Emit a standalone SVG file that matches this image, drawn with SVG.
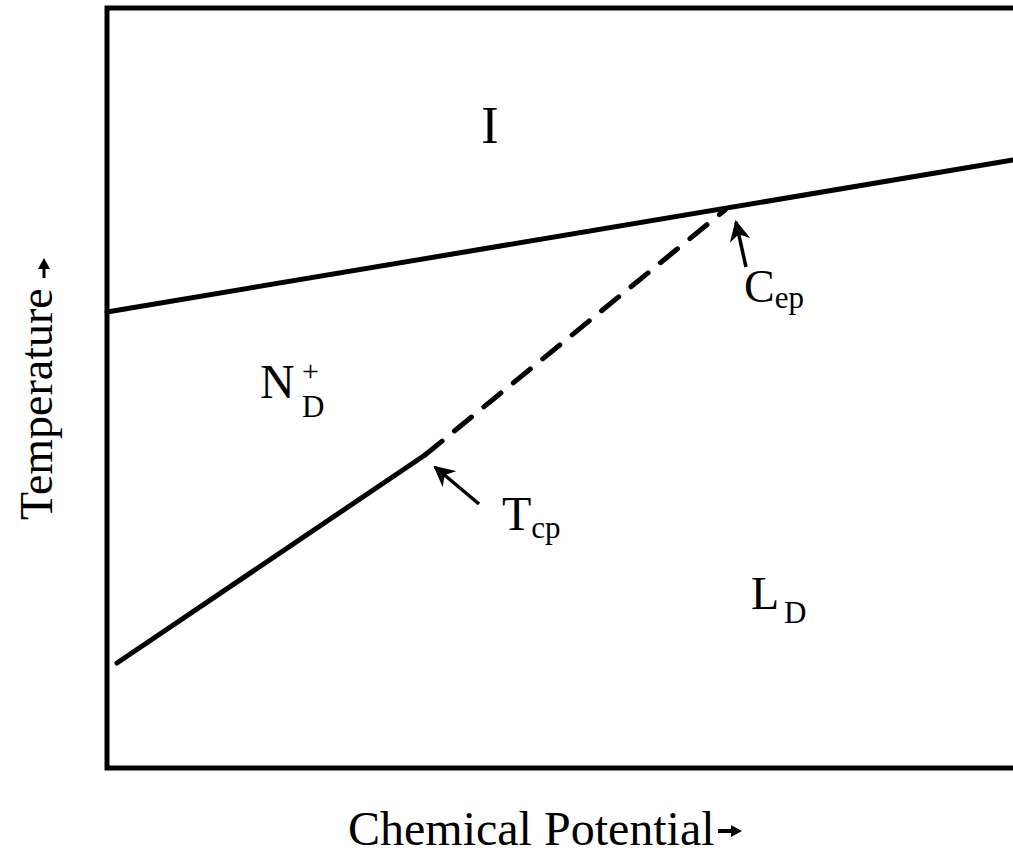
<svg xmlns="http://www.w3.org/2000/svg" width="1013" height="857" viewBox="0 0 1013 857">
<style>
.t{font-family:"Liberation Serif","Times New Roman",serif;fill:#000}
.ln{stroke:#000;stroke-width:5;fill:none;stroke-linecap:round}
.ar{stroke:#000;stroke-width:3.5;fill:none}
</style>
<defs>
<marker id="ah" viewBox="0 0 10 10" refX="9" refY="5" markerWidth="6" markerHeight="6" markerUnits="strokeWidth" orient="auto">
<path d="M0,0 L10,5 L0,10 L3,5 Z" fill="#000"/>
</marker>
</defs>
<rect width="1013" height="857" fill="#fff"/>
<g id="frame"><path class="ln" d="M1016,8 H107 V768 H1016" stroke-linecap="butt"/></g>
<g id="connectors">
<line class="ln" x1="107" y1="312" x2="1013" y2="160"/>
<line class="ln" x1="117" y1="663" x2="425" y2="455"/>
<line class="ln" x1="425" y1="455" x2="725" y2="210" stroke-dasharray="22,16" stroke-linecap="butt"/>
<line class="ar" x1="746" y1="267" x2="736" y2="222" marker-end="url(#ah)"/>
<line class="ar" x1="479" y1="504" x2="435" y2="467" marker-end="url(#ah)"/>
</g>
<g id="label-I"><text class="t" x="490" y="143" font-size="52" text-anchor="middle">I</text></g>
<g id="label-Cep"><text class="t" x="744" y="302" font-size="46">C<tspan font-size="31" dy="6">ep</tspan></text></g>
<g id="label-Tcp"><text class="t" x="502" y="530" font-size="48">T<tspan font-size="31" dy="8">cp</tspan></text></g>
<g id="label-ND"><text class="t" x="260" y="398" font-size="48">N</text><text class="t" x="302" y="381" font-size="30">+</text><text class="t" x="302" y="417" font-size="31">D</text></g>
<g id="label-LD"><text class="t" x="751" y="609" font-size="46">L</text><text class="t" x="784" y="623" font-size="31">D</text></g>
<g id="axis-y"><text class="t" font-size="46" transform="translate(52,520) rotate(-90)">Temperature</text>
<path d="M44,278 V266" stroke="#000" stroke-width="3"/><path d="M38,269 L44,258 L50,269 Z" fill="#000"/></g>
<g id="axis-x"><text class="t" x="348" y="845" font-size="48">Chemical Potential</text>
<path d="M718,831 H736" stroke="#000" stroke-width="4"/><path d="M731,825 L742,831 L731,837 Z" fill="#000"/></g>
</svg>
